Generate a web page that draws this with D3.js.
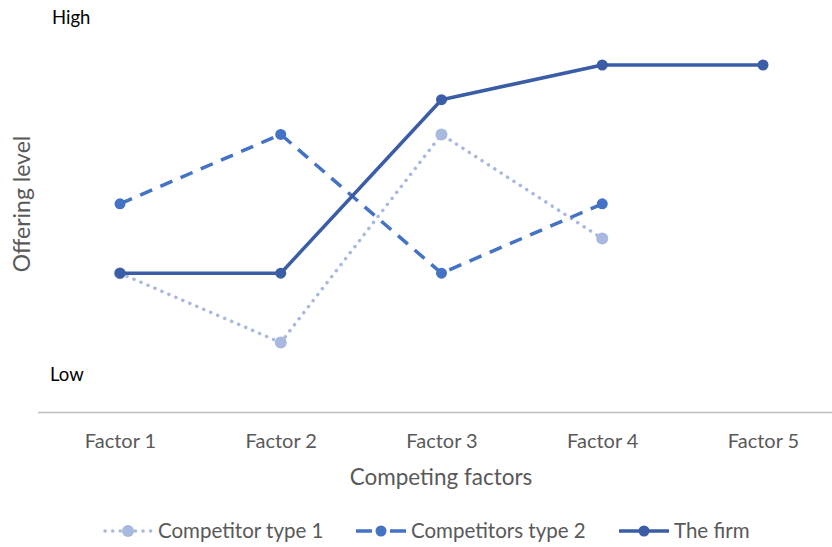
<!DOCTYPE html>
<html>
<head>
<meta charset="utf-8">
<script src="https://cdn.jsdelivr.net/npm/d3@7"></script>
<style>
body{margin:0;background:#fff;}
svg text{font-family:Lato,"Open Sans",sans-serif;}
</style>
</head>
<body>
<div id="chart"></div>
<script>
var factors=["Factor 1","Factor 2","Factor 3","Factor 4","Factor 5"];
var competitor1=[4,2,8,5];
var competitor2=[6,8,4,6];
var firm=[4,4,9,10,10];
var seriesNames=["Competitor type 1","Competitors type 2","The firm"];

var svg=d3.select("#chart").append("svg").attr("width",832).attr("height",547);

var x=d3.scalePoint().domain(factors).range([120,763]);
var y=d3.scaleLinear().domain([0,10]).range([412,65]);

// axis line + tick labels
var xAxis=svg.append("g").attr("transform","translate(0,"+y(0)+")")
	.call(d3.axisBottom(x).tickSize(0).tickPadding(22));
xAxis.select(".domain").remove();
xAxis.append("line").attr("x1",38).attr("x2",832).attr("y1",0.5).attr("y2",0.5)
	.attr("stroke","#bfbfbf").attr("stroke-width",1.5);
xAxis.selectAll(".tick text").attr("font-size",20).attr("fill","#595959")
	.style("font-family","Lato,'Open Sans',sans-serif");

svg.append("text").attr("x",441).attr("y",485).attr("text-anchor","middle")
	.attr("font-size",22.5).attr("fill","#595959").text("Competing factors");
svg.append("text").attr("transform","translate(30,204) rotate(-90)").attr("text-anchor","middle")
	.attr("font-size",23).attr("fill","#595959").text("Offering level");
svg.append("text").attr("x",52).attr("y",24).attr("font-size",18.5).attr("fill","#000").text("High");
svg.append("text").attr("x",50).attr("y",381).attr("font-size",18.5).attr("fill","#000").text("Low");

var styles=[
	{data:competitor1,color:"#a9b8de",width:3.5,dash:"0.1,7.5",cap:"round",r:6},
	{data:competitor2,color:"#4472c4",width:3.5,dash:"13,9",cap:"butt",r:5.5},
	{data:firm,color:"#3a5da5",width:3.5,dash:null,cap:"butt",r:5.5}
];

var line=d3.line().x(function(d,i){return x(factors[i]);}).y(function(d){return y(d);});

styles.forEach(function(s){
	svg.append("path").datum(s.data).attr("d",line).attr("fill","none")
		.attr("stroke",s.color).attr("stroke-width",s.width)
		.attr("stroke-dasharray",s.dash).attr("stroke-linecap",s.cap)
		.attr("stroke-linejoin","round");
	svg.selectAll(null).data(s.data).enter().append("circle")
		.attr("cx",function(d,i){return x(factors[i]);})
		.attr("cy",function(d){return y(d);})
		.attr("r",s.r).attr("fill",s.color);
});

// legend
var legendX=[103,356,619];
styles.forEach(function(s,i){
	var g=svg.append("g").attr("transform","translate("+legendX[i]+",531)");
	g.append("line").attr("x1",i==0?2:0).attr("x2",50).attr("y1",0).attr("y2",0)
		.attr("stroke",s.color).attr("stroke-width",s.width)
		.attr("stroke-dasharray",i==1?"16,18,16":s.dash).attr("stroke-linecap",s.cap);
	g.append("circle").attr("cx",25).attr("cy",0).attr("r",s.r).attr("fill",s.color);
	g.append("text").attr("x",55).attr("y",7).attr("font-size",20.5).attr("fill","#595959").text(seriesNames[i]);
});
</script>
</body>
</html>
